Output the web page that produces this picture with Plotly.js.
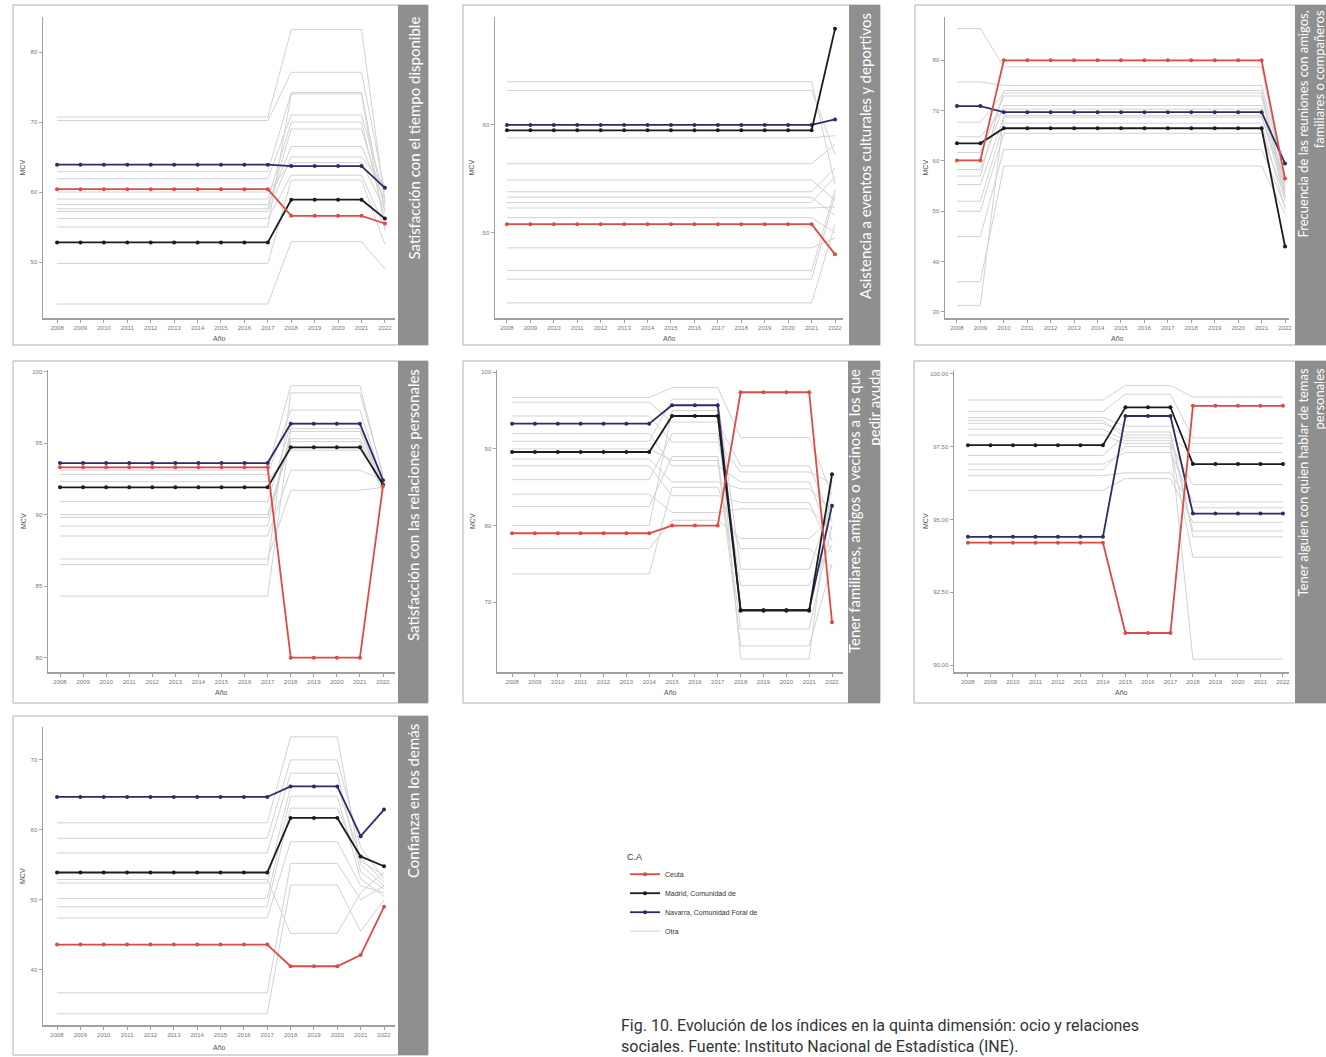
<!DOCTYPE html>
<html><head><meta charset="utf-8">
<script src="https://cdn.plot.ly/plotly-3.0.1.min.js"></script>
<style>html,body{margin:0;padding:0;background:#fff;}#chart{width:1326px;height:1057px;}</style>
</head><body><div id="chart"></div>
<script>
// ---------------- DATA ----------------
const years = ['2008','2009','2010','2011','2012','2013','2014','2015','2016','2017','2018','2019','2020','2021','2022'];
const panelTitles = [
  'Satisfacción con el tiempo disponible',
  'Asistencia a eventos culturales y deportivos',
  'Frecuencia de las reuniones con amigos,<br>familiares o compañeros',
  'Satisfacción con las relaciones personales',
  'Tener familiares, amigos o vecinos a los que<br>pedir ayuda',
  'Tener alguien con quien hablar de temas<br>personales',
  'Confianza en los demás'
];
const seriesNames = ['Ceuta', 'Madrid, Comunidad de', 'Navarra, Comunidad Foral de', 'Otra'];
const legendTitle = 'C.A';
const yTitle = 'MCV';
const xTitle = 'Año';
const caption = 'Fig. 10. Evolución de los índices en la quinta dimensión: ocio y relaciones<br>sociales. Fuente: Instituto Nacional de Estadística (INE).';

// Panel 1: Satisfacción con el tiempo disponible
const p1_ceuta   = [60.4,60.4,60.4,60.4,60.4,60.4,60.4,60.4,60.4,60.4,56.6,56.6,56.6,56.6,55.5];
const p1_madrid  = [52.8,52.8,52.8,52.8,52.8,52.8,52.8,52.8,52.8,52.8,58.9,58.9,58.9,58.9,56.2];
const p1_navarra = [63.9,63.9,63.9,63.9,63.9,63.9,63.9,63.9,63.9,63.9,63.7,63.7,63.7,63.7,60.6];
const p1_otras = [
  [70.7,70.7,70.7,70.7,70.7,70.7,70.7,70.7,70.7,70.7,83.2,83.2,83.2,83.2,58.5],
  [70.2,70.2,70.2,70.2,70.2,70.2,70.2,70.2,70.2,70.2,77.1,77.1,77.1,77.1,60.0],
  [62.9,62.9,62.9,62.9,62.9,62.9,62.9,62.9,62.9,62.9,74.2,74.2,74.2,74.2,57.0],
  [61.9,61.9,61.9,61.9,61.9,61.9,61.9,61.9,61.9,61.9,71.0,71.0,71.0,71.0,59.3],
  [59.0,59.0,59.0,59.0,59.0,59.0,59.0,59.0,59.0,59.0,70.0,70.0,70.0,70.0,56.0],
  [57.6,57.6,57.6,57.6,57.6,57.6,57.6,57.6,57.6,57.6,69.0,69.0,69.0,69.0,58.0],
  [57.2,57.2,57.2,57.2,57.2,57.2,57.2,57.2,57.2,57.2,65.0,65.0,65.0,65.0,60.9],
  [56.2,56.2,56.2,56.2,56.2,56.2,56.2,56.2,56.2,56.2,62.4,62.4,62.4,62.4,55.0],
  [49.8,49.8,49.8,49.8,49.8,49.8,49.8,49.8,49.8,49.8,61.7,61.7,61.7,61.7,52.5],
  [44.0,44.0,44.0,44.0,44.0,44.0,44.0,44.0,44.0,44.0,52.9,52.9,52.9,52.9,49.0],
  [60.0,60.0,60.0,60.0,60.0,60.0,60.0,60.0,60.0,60.0,64.2,64.2,64.2,64.2,57.5],
  [58.2,58.2,58.2,58.2,58.2,58.2,58.2,58.2,58.2,58.2,66.5,66.5,66.5,66.5,58.8],
  [55.0,55.0,55.0,55.0,55.0,55.0,55.0,55.0,55.0,55.0,74.0,74.0,74.0,74.0,54.5]
];
const p1_ticks = [50, 60, 70, 80];

// Panel 2: Asistencia a eventos culturales y deportivos
const p2_ceuta   = [50.8,50.8,50.8,50.8,50.8,50.8,50.8,50.8,50.8,50.8,50.8,50.8,50.8,50.8,48.0];
const p2_madrid  = [59.5,59.5,59.5,59.5,59.5,59.5,59.5,59.5,59.5,59.5,59.5,59.5,59.5,59.5,68.9];
const p2_navarra = [60.0,60.0,60.0,60.0,60.0,60.0,60.0,60.0,60.0,60.0,60.0,60.0,60.0,60.0,60.5];
const p2_otras = [
  [64.0,64.0,64.0,64.0,64.0,64.0,64.0,64.0,64.0,64.0,64.0,64.0,64.0,64.0,54.5],
  [63.2,63.2,63.2,63.2,63.2,63.2,63.2,63.2,63.2,63.2,63.2,63.2,63.2,63.2,57.3],
  [58.8,58.8,58.8,58.8,58.8,58.8,58.8,58.8,58.8,58.8,58.8,58.8,58.8,58.8,59.0],
  [56.4,56.4,56.4,56.4,56.4,56.4,56.4,56.4,56.4,56.4,56.4,56.4,56.4,56.4,58.2],
  [54.9,54.9,54.9,54.9,54.9,54.9,54.9,54.9,54.9,54.9,54.9,54.9,54.9,54.9,53.0],
  [53.8,53.8,53.8,53.8,53.8,53.8,53.8,53.8,53.8,53.8,53.8,53.8,53.8,53.8,56.0],
  [53.3,53.3,53.3,53.3,53.3,53.3,53.3,53.3,53.3,53.3,53.3,53.3,53.3,53.3,51.6],
  [52.8,52.8,52.8,52.8,52.8,52.8,52.8,52.8,52.8,52.8,52.8,52.8,52.8,52.8,55.2],
  [52.3,52.3,52.3,52.3,52.3,52.3,52.3,52.3,52.3,52.3,52.3,52.3,52.3,52.3,52.4],
  [51.4,51.4,51.4,51.4,51.4,51.4,51.4,51.4,51.4,51.4,51.4,51.4,51.4,51.4,50.0],
  [48.6,48.6,48.6,48.6,48.6,48.6,48.6,48.6,48.6,48.6,48.6,48.6,48.6,48.6,49.5],
  [46.5,46.5,46.5,46.5,46.5,46.5,46.5,46.5,46.5,46.5,46.5,46.5,46.5,46.5,54.0],
  [45.7,45.7,45.7,45.7,45.7,45.7,45.7,45.7,45.7,45.7,45.7,45.7,45.7,45.7,53.5],
  [43.5,43.5,43.5,43.5,43.5,43.5,43.5,43.5,43.5,43.5,43.5,43.5,43.5,43.5,50.8]
];
const p2_ticks = [50, 60];

// Panel 3: Frecuencia de las reuniones con amigos, familiares o compañeros
const p3_ceuta   = [60.1,60.1,80.0,80.0,80.0,80.0,80.0,80.0,80.0,80.0,80.0,80.0,80.0,80.0,56.5];
const p3_madrid  = [63.5,63.5,66.5,66.5,66.5,66.5,66.5,66.5,66.5,66.5,66.5,66.5,66.5,66.5,43.0];
const p3_navarra = [70.9,70.9,69.7,69.7,69.7,69.7,69.7,69.7,69.7,69.7,69.7,69.7,69.7,69.7,59.5];
const p3_otras = [
  [86.3,86.3,78.7,78.7,78.7,78.7,78.7,78.7,78.7,78.7,78.7,78.7,78.7,78.7,55.0],
  [75.7,75.7,75.0,75.0,75.0,75.0,75.0,75.0,75.0,75.0,75.0,75.0,75.0,75.0,57.0],
  [67.7,67.7,73.5,73.5,73.5,73.5,73.5,73.5,73.5,73.5,73.5,73.5,73.5,73.5,54.0],
  [61.7,61.7,72.9,72.9,72.9,72.9,72.9,72.9,72.9,72.9,72.9,72.9,72.9,72.9,53.0],
  [58.3,58.3,71.0,71.0,71.0,71.0,71.0,71.0,71.0,71.0,71.0,71.0,71.0,71.0,52.0],
  [55.3,55.3,68.7,68.7,68.7,68.7,68.7,68.7,68.7,68.7,68.7,68.7,68.7,68.7,55.5],
  [52.0,52.0,67.5,67.5,67.5,67.5,67.5,67.5,67.5,67.5,67.5,67.5,67.5,67.5,50.5],
  [50.0,50.0,65.5,65.5,65.5,65.5,65.5,65.5,65.5,65.5,65.5,65.5,65.5,65.5,52.8],
  [45.0,45.0,62.3,62.3,62.3,62.3,62.3,62.3,62.3,62.3,62.3,62.3,62.3,62.3,51.0],
  [36.0,36.0,59.0,59.0,59.0,59.0,59.0,59.0,59.0,59.0,59.0,59.0,59.0,59.0,49.5],
  [31.3,31.3,69.0,69.0,69.0,69.0,69.0,69.0,69.0,69.0,69.0,69.0,69.0,69.0,53.5],
  [64.8,64.8,70.3,70.3,70.3,70.3,70.3,70.3,70.3,70.3,70.3,70.3,70.3,70.3,56.2],
  [57.0,57.0,74.0,74.0,74.0,74.0,74.0,74.0,74.0,74.0,74.0,74.0,74.0,74.0,54.5]
];
const p3_ticks = [30, 40, 50, 60, 70, 80];

// Panel 4: Satisfacción con las relaciones personales
const p4_ceuta   = [93.3,93.3,93.3,93.3,93.3,93.3,93.3,93.3,93.3,93.3,80.0,80.0,80.0,80.0,92.0];
const p4_madrid  = [91.9,91.9,91.9,91.9,91.9,91.9,91.9,91.9,91.9,91.9,94.7,94.7,94.7,94.7,92.1];
const p4_navarra = [93.6,93.6,93.6,93.6,93.6,93.6,93.6,93.6,93.6,93.6,96.35,96.35,96.35,96.35,92.4];
const p4_otras = [
  [93.1,93.1,93.1,93.1,93.1,93.1,93.1,93.1,93.1,93.1,99.0,99.0,99.0,99.0,92.6],
  [92.8,92.8,92.8,92.8,92.8,92.8,92.8,92.8,92.8,92.8,97.3,97.3,97.3,97.3,92.2],
  [90.9,90.9,90.9,90.9,90.9,90.9,90.9,90.9,90.9,90.9,96.3,96.3,96.3,96.3,91.8],
  [90.0,90.0,90.0,90.0,90.0,90.0,90.0,90.0,90.0,90.0,95.3,95.3,95.3,95.3,92.0],
  [89.8,89.8,89.8,89.8,89.8,89.8,89.8,89.8,89.8,89.8,95.1,95.1,95.1,95.1,91.6],
  [88.5,88.5,88.5,88.5,88.5,88.5,88.5,88.5,88.5,88.5,93.1,93.1,93.1,93.1,92.4],
  [86.9,86.9,86.9,86.9,86.9,86.9,86.9,86.9,86.9,86.9,91.7,91.7,91.7,91.7,91.9],
  [86.5,86.5,86.5,86.5,86.5,86.5,86.5,86.5,86.5,86.5,98.5,98.5,98.5,98.5,92.8],
  [84.3,84.3,84.3,84.3,84.3,84.3,84.3,84.3,84.3,84.3,96.0,96.0,96.0,96.0,91.5],
  [92.3,92.3,92.3,92.3,92.3,92.3,92.3,92.3,92.3,92.3,94.5,94.5,94.5,94.5,92.3],
  [89.2,89.2,89.2,89.2,89.2,89.2,89.2,89.2,89.2,89.2,95.8,95.8,95.8,95.8,92.1]
];
const p4_ticks = [80, 85, 90, 95, 100];

// Panel 5: Tener familiares, amigos o vecinos a los que pedir ayuda
const p5_ceuta   = [79.0,79.0,79.0,79.0,79.0,79.0,79.0,80.0,80.0,80.0,97.4,97.4,97.4,97.4,67.4];
const p5_madrid  = [89.6,89.6,89.6,89.6,89.6,89.6,89.6,94.3,94.3,94.3,68.9,68.9,68.9,68.9,86.7];
const p5_navarra = [93.3,93.3,93.3,93.3,93.3,93.3,93.3,95.7,95.7,95.7,69.0,69.0,69.0,69.0,82.6];
const p5_otras = [
  [96.7,96.7,96.7,96.7,96.7,96.7,96.7,98.0,98.0,98.0,91.5,91.5,91.5,91.5,84.0],
  [96.1,96.1,96.1,96.1,96.1,96.1,96.1,93.5,93.5,93.5,87.8,87.8,87.8,87.8,80.5],
  [94.3,94.3,94.3,94.3,94.3,94.3,94.3,90.9,90.9,90.9,87.0,87.0,87.0,87.0,85.5],
  [92.0,92.0,92.0,92.0,92.0,92.0,92.0,87.8,87.8,87.8,85.7,85.7,85.7,85.7,78.0],
  [88.7,88.7,88.7,88.7,88.7,88.7,88.7,85.7,85.7,85.7,84.8,84.8,84.8,84.8,82.0],
  [87.8,87.8,87.8,87.8,87.8,87.8,87.8,83.9,83.9,83.9,83.0,83.0,83.0,83.0,76.5],
  [84.1,84.1,84.1,84.1,84.1,84.1,84.1,81.7,81.7,81.7,82.2,82.2,82.2,82.2,79.5],
  [77.0,77.0,77.0,77.0,77.0,77.0,77.0,80.7,80.7,80.7,78.3,78.3,78.3,78.3,81.0],
  [73.7,73.7,73.7,73.7,73.7,73.7,73.7,85.0,85.0,85.0,77.0,77.0,77.0,77.0,74.5],
  [91.0,91.0,91.0,91.0,91.0,91.0,91.0,96.5,96.5,96.5,74.3,74.3,74.3,74.3,83.0],
  [86.0,86.0,86.0,86.0,86.0,86.0,86.0,92.0,92.0,92.0,72.2,72.2,72.2,72.2,77.5],
  [82.5,82.5,82.5,82.5,82.5,82.5,82.5,89.0,89.0,89.0,66.5,66.5,66.5,66.5,80.0],
  [90.0,90.0,90.0,90.0,90.0,90.0,90.0,88.5,88.5,88.5,64.3,64.3,64.3,64.3,75.0],
  [80.0,80.0,80.0,80.0,80.0,80.0,80.0,95.0,95.0,95.0,62.6,62.6,62.6,62.6,86.0]
];
const p5_ticks = [70, 80, 90, 100];

// Panel 6: Tener alguien con quien hablar de temas personales
const p6_ceuta   = [94.2,94.2,94.2,94.2,94.2,94.2,94.2,91.1,91.1,91.1,98.9,98.9,98.9,98.9,98.9];
const p6_madrid  = [97.55,97.55,97.55,97.55,97.55,97.55,97.55,98.85,98.85,98.85,96.9,96.9,96.9,96.9,96.9];
const p6_navarra = [94.4,94.4,94.4,94.4,94.4,94.4,94.4,98.55,98.55,98.55,95.2,95.2,95.2,95.2,95.2];
const p6_otras = [
  [99.1,99.1,99.1,99.1,99.1,99.1,99.1,99.6,99.6,99.6,99.2,99.2,99.2,99.2,99.2],
  [98.7,98.7,98.7,98.7,98.7,98.7,98.7,99.3,99.3,99.3,97.8,97.8,97.8,97.8,97.8],
  [98.5,98.5,98.5,98.5,98.5,98.5,98.5,98.2,98.2,98.2,97.6,97.6,97.6,97.6,97.6],
  [98.4,98.4,98.4,98.4,98.4,98.4,98.4,97.8,97.8,97.8,97.3,97.3,97.3,97.3,97.3],
  [97.9,97.9,97.9,97.9,97.9,97.9,97.9,97.6,97.6,97.6,96.2,96.2,96.2,96.2,96.2],
  [96.9,96.9,96.9,96.9,96.9,96.9,96.9,97.3,97.3,97.3,95.6,95.6,95.6,95.6,95.6],
  [96.5,96.5,96.5,96.5,96.5,96.5,96.5,96.6,96.6,96.6,95.4,95.4,95.4,95.4,95.4],
  [96.0,96.0,96.0,96.0,96.0,96.0,96.0,96.4,96.4,96.4,94.9,94.9,94.9,94.9,94.9],
  [98.3,98.3,98.3,98.3,98.3,98.3,98.3,98.0,98.0,98.0,94.6,94.6,94.6,94.6,94.6],
  [97.2,97.2,97.2,97.2,97.2,97.2,97.2,97.9,97.9,97.9,94.4,94.4,94.4,94.4,94.4],
  [96.7,96.7,96.7,96.7,96.7,96.7,96.7,97.5,97.5,97.5,93.7,93.7,93.7,93.7,93.7],
  [98.1,98.1,98.1,98.1,98.1,98.1,98.1,97.7,97.7,97.7,90.2,90.2,90.2,90.2,90.2]
];
const p6_ticks = [90, 92.5, 95, 97.5, 100];
const p6_tickText = ['90.00', '92.50', '95.00', '97.50', '100.00'];

// Panel 7: Confianza en los demás
const p7_ceuta   = [43.6,43.6,43.6,43.6,43.6,43.6,43.6,43.6,43.6,43.6,40.5,40.5,40.5,42.1,49.0];
const p7_madrid  = [53.9,53.9,53.9,53.9,53.9,53.9,53.9,53.9,53.9,53.9,61.7,61.7,61.7,56.2,54.8];
const p7_navarra = [64.7,64.7,64.7,64.7,64.7,64.7,64.7,64.7,64.7,64.7,66.2,66.2,66.2,59.1,62.9];
const p7_otras = [
  [61.0,61.0,61.0,61.0,61.0,61.0,61.0,61.0,61.0,61.0,73.3,73.3,73.3,55.0,52.0],
  [58.8,58.8,58.8,58.8,58.8,58.8,58.8,58.8,58.8,58.8,70.0,70.0,70.0,57.5,53.0],
  [56.7,56.7,56.7,56.7,56.7,56.7,56.7,56.7,56.7,56.7,68.1,68.1,68.1,54.0,51.5],
  [52.4,52.4,52.4,52.4,52.4,52.4,52.4,52.4,52.4,52.4,66.2,66.2,66.2,56.0,52.5],
  [50.2,50.2,50.2,50.2,50.2,50.2,50.2,50.2,50.2,50.2,64.8,64.8,64.8,53.0,50.5],
  [49.0,49.0,49.0,49.0,49.0,49.0,49.0,49.0,49.0,49.0,63.1,63.1,63.1,55.5,53.5],
  [47.4,47.4,47.4,47.4,47.4,47.4,47.4,47.4,47.4,47.4,58.3,58.3,58.3,52.0,51.0],
  [36.7,36.7,36.7,36.7,36.7,36.7,36.7,36.7,36.7,36.7,55.2,55.2,55.2,50.0,52.0],
  [33.7,33.7,33.7,33.7,33.7,33.7,33.7,33.7,33.7,33.7,52.1,52.1,52.1,45.5,50.0],
  [52.9,52.9,52.9,52.9,52.9,52.9,52.9,52.9,52.9,52.9,45.2,45.2,45.2,51.0,54.0]
];
const p7_ticks = [40, 50, 60, 70];

// ---------------- LAYOUT / DRAWING ----------------
const W = 1326, H = 1057;
const px = p => p / W;
const py = p => 1 - p / H;

const panelData = [
  {c: p1_ceuta, m: p1_madrid, n: p1_navarra, o: p1_otras, ticks: p1_ticks, tt: null},
  {c: p2_ceuta, m: p2_madrid, n: p2_navarra, o: p2_otras, ticks: p2_ticks, tt: null},
  {c: p3_ceuta, m: p3_madrid, n: p3_navarra, o: p3_otras, ticks: p3_ticks, tt: null},
  {c: p4_ceuta, m: p4_madrid, n: p4_navarra, o: p4_otras, ticks: p4_ticks, tt: null},
  {c: p5_ceuta, m: p5_madrid, n: p5_navarra, o: p5_otras, ticks: p5_ticks, tt: null},
  {c: p6_ceuta, m: p6_madrid, n: p6_navarra, o: p6_otras, ticks: p6_ticks, tt: p6_tickText},
  {c: p7_ceuta, m: p7_madrid, n: p7_navarra, o: p7_otras, ticks: p7_ticks, tt: null}
];

// geometry (pixels): plot box, x range, y range, frame, strip, strip text
const geo = [
  {x0: 43,  x1: 395,  y0: 17,  y1: 318,  xr: [-0.6, 14.43], yr: [42, 85],      fx0: 13,  fx1: 428,  fy0: 5,   fy1: 345,  sx0: 398,  sx1: 428,  tx: 413,  ty: 15,  fs: 15, mcvX: 22,  anoY: 338},
  {x0: 495, x1: 843,  y0: 17,  y1: 318,  xr: [-0.51, 14.34], yr: [42.1, 70],   fx0: 463, fx1: 880,  fy0: 5,   fy1: 345,  sx0: 849,  sx1: 880,  tx: 865,  ty: 11,  fs: 15, mcvX: 471, anoY: 338},
  {x0: 945, x1: 1289, y0: 17,  y1: 318,  xr: [-0.51, 14.17], yr: [28.8, 88.6], fx0: 915, fx1: 1340, fy0: 5,   fy1: 345,  sx0: 1295, sx1: 1326, tx: 1311, ty: 9,   fs: 13, mcvX: 925, anoY: 338},
  {x0: 48,  x1: 395,  y0: 370, y1: 672,  xr: [-0.52, 14.52], yr: [79.0, 100.1], fx0: 13, fx1: 428,  fy0: 361, fy1: 703,  sx0: 398,  sx1: 428,  tx: 413,  ty: 367, fs: 15, mcvX: 23,  anoY: 692},
  {x0: 497, x1: 843,  y0: 370, y1: 672,  xr: [-0.66, 14.48], yr: [60.9, 100.3], fx0: 463, fx1: 880, fy0: 361, fy1: 703,  sx0: 848,  sx1: 880,  tx: 864,  ty: 367, fs: 15, mcvX: 472, anoY: 692},
  {x0: 954, x1: 1289, y0: 370, y1: 672,  xr: [-0.62, 14.27], yr: [89.76, 100.13], fx0: 914, fx1: 1340, fy0: 361, fy1: 703, sx0: 1295, sx1: 1326, tx: 1311, ty: 366, fs: 13, mcvX: 925, anoY: 692},
  {x0: 43,  x1: 395,  y0: 727, y1: 1025, xr: [-0.6, 14.47], yr: [32.1, 74.7],  fx0: 13,  fx1: 428,  fy0: 716, fy1: 1055, sx0: 398,  sx1: 428,  tx: 413,  ty: 722, fs: 15, mcvX: 22,  anoY: 1047}
];

const colCeuta = '#dc4b45', colMadrid = '#1c1c1c', colNavarra = '#2c2c66', colOtra = '#d2d2d2';

const traces = [];
const layout = {
  width: W, height: H,
  margin: {l: 0, r: 0, t: 0, b: 0},
  paper_bgcolor: '#ffffff', plot_bgcolor: 'rgba(0,0,0,0)',
  font: {family: 'Liberation Sans, Arial, sans-serif', color: '#555'},
  showlegend: true,
  legend: {
    x: px(625), y: py(848), xanchor: 'left', yanchor: 'top',
    title: {text: legendTitle, font: {size: 9, color: '#333'}},
    font: {size: 7, color: '#333'},
    bgcolor: 'rgba(0,0,0,0)', itemwidth: 30, tracegroupgap: 0
  },
  shapes: [], annotations: []
};

panelData.forEach((d, i) => {
  const k = i + 1;
  const xa = k === 1 ? 'x' : 'x' + k;
  const ya = k === 1 ? 'y' : 'y' + k;
  const g = geo[i];

  d.o.forEach((vals, j) => {
    traces.push({
      x: years, y: vals, xaxis: xa, yaxis: ya, type: 'scatter', mode: 'lines',
      line: {color: colOtra, width: 1}, name: seriesNames[3], legendgroup: 'otra', legendrank: 4,
      showlegend: (k === 1 && j === 0), hoverinfo: 'skip'
    });
  });
  const main = [
    {v: d.n, col: colNavarra, nm: seriesNames[2], rank: 3},
    {v: d.m, col: colMadrid, nm: seriesNames[1], rank: 2},
    {v: d.c, col: colCeuta, nm: seriesNames[0], rank: 1}
  ];
  main.forEach(s => {
    traces.push({
      x: years, y: s.v, xaxis: xa, yaxis: ya, type: 'scatter', mode: 'lines+markers',
      line: {color: s.col, width: 1.8}, marker: {color: s.col, size: 4, symbol: 'circle'},
      name: s.nm, legendgroup: s.nm, legendrank: s.rank, showlegend: k === 1
    });
  });

  layout['xaxis' + (k === 1 ? '' : k)] = {
    domain: [px(g.x0), px(g.x1)], anchor: ya, type: 'category', range: g.xr,
    showline: true, linecolor: '#a0a0a0', linewidth: 1.5, ticks: 'outside', ticklen: 3,
    tickcolor: '#a0a0a0', tickfont: {size: 6, color: '#777'}, showgrid: false, zeroline: false,
    fixedrange: true, tickangle: 0
  };
  layout['yaxis' + (k === 1 ? '' : k)] = {
    domain: [py(g.y1), py(g.y0)], anchor: xa, range: g.yr,
    tickvals: d.ticks, ticktext: d.tt ? d.tt : d.ticks.map(String),
    showline: true, linecolor: '#a0a0a0', linewidth: 1.5, ticks: 'outside', ticklen: 3,
    tickcolor: '#a0a0a0', tickfont: {size: 6, color: '#777'}, showgrid: false, zeroline: false,
    fixedrange: true
  };

  // frame
  layout.shapes.push({type: 'rect', xref: 'paper', yref: 'paper', x0: px(g.fx0), x1: px(g.fx1),
    y0: py(g.fy1), y1: py(g.fy0), line: {color: '#b0b0b0', width: 1}, fillcolor: 'rgba(0,0,0,0)', layer: 'below'});
  // strip
  layout.shapes.push({type: 'rect', xref: 'paper', yref: 'paper', x0: px(g.sx0), x1: px(g.sx1),
    y0: py(g.fy1), y1: py(g.fy0), line: {width: 0}, fillcolor: '#8f8f8f', layer: 'below'});
  // strip text
  layout.annotations.push({
    xref: 'paper', yref: 'paper', x: px(g.tx), y: py(g.ty),
    xanchor: 'center', yanchor: 'top', textangle: -90, align: 'right', showarrow: false,
    text: panelTitles[i], font: {family: 'Lato, Noto Sans, sans-serif', size: g.fs, color: '#ffffff'}
  });
  // axis titles
  layout.annotations.push({
    xref: 'paper', yref: 'paper', x: px(g.mcvX), y: py((g.y0 + g.y1) / 2), xanchor: 'center', yanchor: 'middle',
    textangle: -90, showarrow: false, text: yTitle, font: {size: 7, color: '#555'}
  });
  layout.annotations.push({
    xref: 'paper', yref: 'paper', x: px((g.x0 + g.x1) / 2), y: py(g.anoY), xanchor: 'center', yanchor: 'middle',
    showarrow: false, text: xTitle, font: {size: 7, color: '#555'}
  });
});

// caption
layout.annotations.push({
  xref: 'paper', yref: 'paper', x: px(619), y: py(1014), xanchor: 'left', yanchor: 'top', align: 'left',
  showarrow: false, text: caption,
  font: {family: 'Liberation Sans Narrow, Roboto, sans-serif', size: 16, color: '#333'}
});

Plotly.newPlot('chart', traces, layout, {displayModeBar: false, staticPlot: true});
</script>
</body></html>
